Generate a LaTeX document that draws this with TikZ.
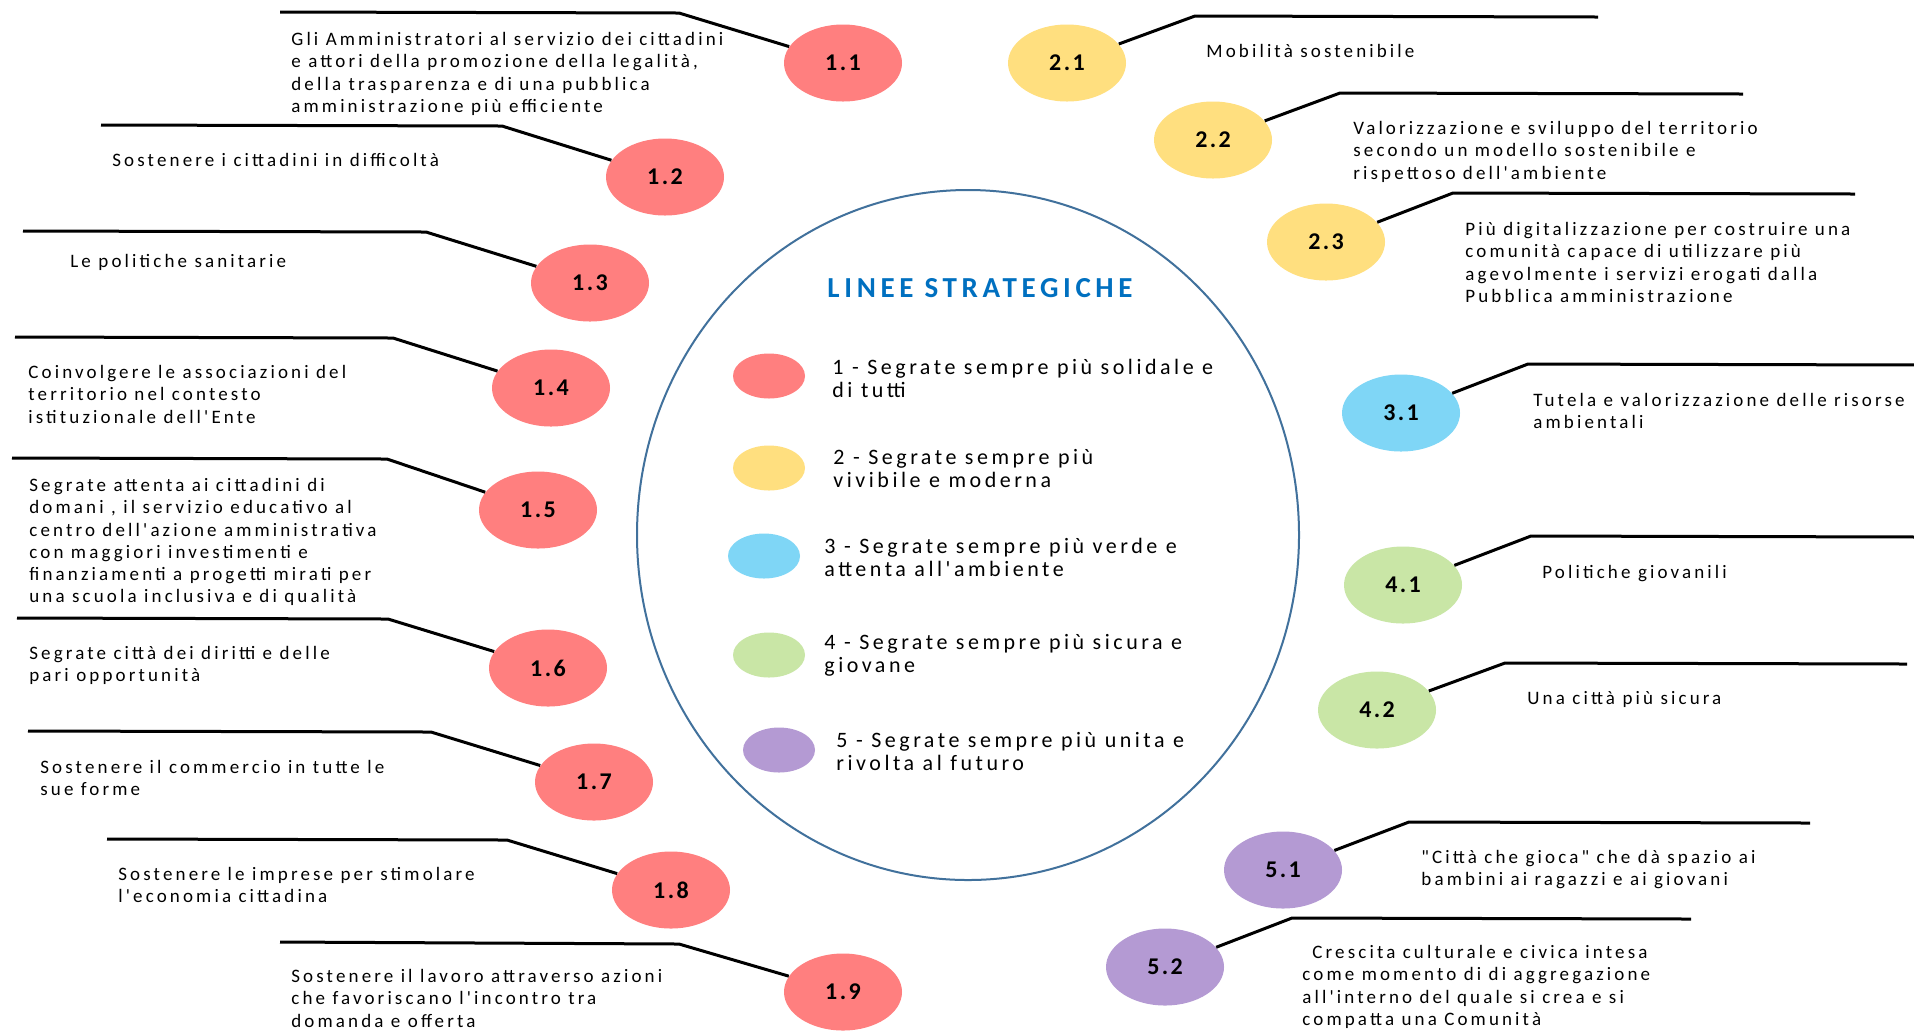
\documentclass[tikz,border=0pt]{standalone}
\usepackage{fontspec}
\setmainfont{Carlito}
\newfontfamily\sidefont[LetterSpace=16.5]{Carlito}
\newfontfamily\legfont[LetterSpace=16]{Carlito}
\newfontfamily\labfont[LetterSpace=10]{Carlito}
\usetikzlibrary{shapes.geometric}
\definecolor{rosso}{HTML}{FF7F7F}
\definecolor{giallo}{HTML}{FFDF7F}
\definecolor{azzurro}{HTML}{7FD6F6}
\definecolor{verde}{HTML}{C9E6A6}
\definecolor{viola}{HTML}{B49AD3}
\definecolor{bordo}{HTML}{41719C}
\definecolor{blutitolo}{HTML}{0070C0}

\begin{document}
\begin{tikzpicture}[x=0.5pt,y=-0.5pt,
  obiettivo/.style={ellipse,minimum width=59pt,minimum height=38.5pt,inner sep=0pt,
    font=\labfont\fontsize{12}{14}\selectfont\bfseries},
  testo/.style={anchor=north west,inner sep=0pt,align=left,
    font=\sidefont\fontsize{9.5}{11.1}\selectfont},
  voce/.style={anchor=north west,inner sep=0pt,align=left,
    font=\legfont\fontsize{11}{11.5}\selectfont},
  pallino/.style={ellipse,minimum width=36pt,minimum height=22.5pt,inner sep=0pt},
  filo/.style={line width=1.5pt}]
\fill[white] (0,0) rectangle (1914,1030);
\useasboundingbox (0,0) rectangle (1914,1030);

\node[ellipse,draw=bordo,line width=1pt,minimum width=331pt,minimum height=345pt] (cornice) at (968,535) {};
\node[font=\legfont\fontsize{14.5}{16}\selectfont\bfseries,text=blutitolo] (titolo) at (980,288) {LINEE STRATEGICHE};

\node[pallino,fill=rosso] (p1) at (769,376) {};
\node[pallino,fill=giallo] (p2) at (769,468) {};
\node[pallino,fill=azzurro] (p3) at (764,556) {};
\node[pallino,fill=verde] (p4) at (769,655) {};
\node[pallino,fill=viola] (p5) at (779,750) {};
\node[voce] (v1) at (832,359) {1 - Segrate sempre più solidale e\\di tutti};
\node[voce] (v2) at (833,449) {2 - Segrate sempre più\\vivibile e moderna};
\node[voce] (v3) at (824,538) {3 - Segrate sempre più verde e\\attenta all'ambiente};
\node[voce] (v4) at (824,634) {4 - Segrate sempre più sicura e\\giovane};
\node[voce] (v5) at (836,732) {5 - Segrate sempre più unita e\\rivolta al futuro};

\node[obiettivo,fill=rosso] (c11) at (843,63) {1.1};
\coordinate (k11) at (679,13);
\coordinate (e11) at (280,12);
\draw[filo] (c11) -- (k11) -- (e11);
\node[testo] (d11) at (291,32) {Gli Amministratori al servizio dei cittadini\\e attori della promozione della legalità,\\della trasparenza e di una pubblica\\amministrazione più efficiente};

\node[obiettivo,fill=rosso] (c12) at (665,177) {1.2};
\coordinate (k12) at (502,126);
\coordinate (e12) at (101,125);
\draw[filo] (c12) -- (k12) -- (e12);
\node[testo] (d12) at (112,153) {Sostenere i cittadini in difficoltà};

\node[obiettivo,fill=rosso] (c13) at (590,283) {1.3};
\coordinate (k13) at (426,232);
\coordinate (e13) at (23,231);
\draw[filo] (c13) -- (k13) -- (e13);
\node[testo] (d13) at (70,254) {Le politiche sanitarie};

\node[obiettivo,fill=rosso] (c14) at (551,388) {1.4};
\coordinate (k14) at (393,338);
\coordinate (e14) at (15,337);
\draw[filo] (c14) -- (k14) -- (e14);
\node[testo] (d14) at (28,365) {Coinvolgere le associazioni del\\territorio nel contesto\\istituzionale dell'Ente};

\node[obiettivo,fill=rosso] (c15) at (538,510) {1.5};
\coordinate (k15) at (387,459);
\coordinate (e15) at (12,458);
\draw[filo] (c15) -- (k15) -- (e15);
\node[testo] (d15) at (29,478) {Segrate attenta ai cittadini di\\domani , il servizio educativo al\\centro dell'azione amministrativa\\con maggiori investimenti e\\finanziamenti a progetti mirati per\\una scuola inclusiva e di qualità};

\node[obiettivo,fill=rosso] (c16) at (548,668) {1.6};
\coordinate (k16) at (388,619);
\coordinate (e16) at (17,618);
\draw[filo] (c16) -- (k16) -- (e16);
\node[testo] (d16) at (29,646) {Segrate città dei diritti e delle\\pari opportunità};

\node[obiettivo,fill=rosso] (c17) at (594,782) {1.7};
\coordinate (k17) at (431,732);
\coordinate (e17) at (28,731);
\draw[filo] (c17) -- (k17) -- (e17);
\node[testo] (d17) at (40,760) {Sostenere il commercio in tutte le\\sue forme};

\node[obiettivo,fill=rosso] (c18) at (671,890) {1.8};
\coordinate (k18) at (507,840);
\coordinate (e18) at (107,839);
\draw[filo] (c18) -- (k18) -- (e18);
\node[testo] (d18) at (118,867) {Sostenere le imprese per stimolare\\l'economia cittadina};

\node[obiettivo,fill=rosso] (c19) at (843,992) {1.9};
\coordinate (k19) at (679,944);
\coordinate (e19) at (280,942);
\draw[filo] (c19) -- (k19) -- (e19);
\node[testo] (d19) at (291,969) {Sostenere il lavoro attraverso azioni\\che favoriscano l'incontro tra\\domanda e offerta};

\node[obiettivo,fill=giallo] (c21) at (1067,63) {2.1};
\coordinate (k21) at (1195,16);
\coordinate (e21) at (1598,17);
\draw[filo] (c21) -- (k21) -- (e21);
\node[testo] (d21) at (1206,44) {Mobilità sostenibile};

\node[obiettivo,fill=giallo] (c22) at (1213,140) {2.2};
\coordinate (k22) at (1340,93);
\coordinate (e22) at (1743,94);
\draw[filo] (c22) -- (k22) -- (e22);
\node[testo] (d22) at (1353,121) {Valorizzazione e sviluppo del territorio\\secondo un modello sostenibile e\\rispettoso dell'ambiente};

\node[obiettivo,fill=giallo] (c23) at (1326,242) {2.3};
\coordinate (k23) at (1453,193);
\coordinate (e23) at (1855,194);
\draw[filo] (c23) -- (k23) -- (e23);
\node[testo] (d23) at (1465,222) {Più digitalizzazione per costruire una\\comunità capace di utilizzare più\\agevolmente i servizi erogati dalla\\Pubblica amministrazione};

\node[obiettivo,fill=azzurro] (c31) at (1401,413) {3.1};
\coordinate (k31) at (1528,364);
\coordinate (e31) at (1920,365);
\draw[filo] (c31) -- (k31) -- (e31);
\node[testo] (d31) at (1533,393) {Tutela e valorizzazione delle risorse\\ambientali};

\node[obiettivo,fill=verde] (c41) at (1403,585) {4.1};
\coordinate (k41) at (1531,536);
\coordinate (e41) at (1920,537);
\draw[filo] (c41) -- (k41) -- (e41);
\node[testo] (d41) at (1542,565) {Politiche giovanili};

\node[obiettivo,fill=verde] (c42) at (1377,710) {4.2};
\coordinate (k42) at (1505,663);
\coordinate (e42) at (1907,664);
\draw[filo] (c42) -- (k42) -- (e42);
\node[testo] (d42) at (1527,691) {Una città più sicura};

\node[obiettivo,fill=viola] (c51) at (1283,870) {5.1};
\coordinate (k51) at (1409,822);
\coordinate (e51) at (1810,823);
\draw[filo] (c51) -- (k51) -- (e51);
\node[testo] (d51) at (1421,850) {"Città che gioca" che dà spazio ai\\bambini ai ragazzi e ai giovani};

\node[obiettivo,fill=viola] (c52) at (1165,967) {5.2};
\coordinate (k52) at (1292,918);
\coordinate (e52) at (1691,919);
\draw[filo] (c52) -- (k52) -- (e52);
\node[testo] (d52) at (1302,945) {\hspace*{5pt}Crescita culturale e civica intesa\\come momento di di aggregazione\\all'interno del quale si crea e si\\compatta una Comunità};
\end{tikzpicture}
\end{document}
